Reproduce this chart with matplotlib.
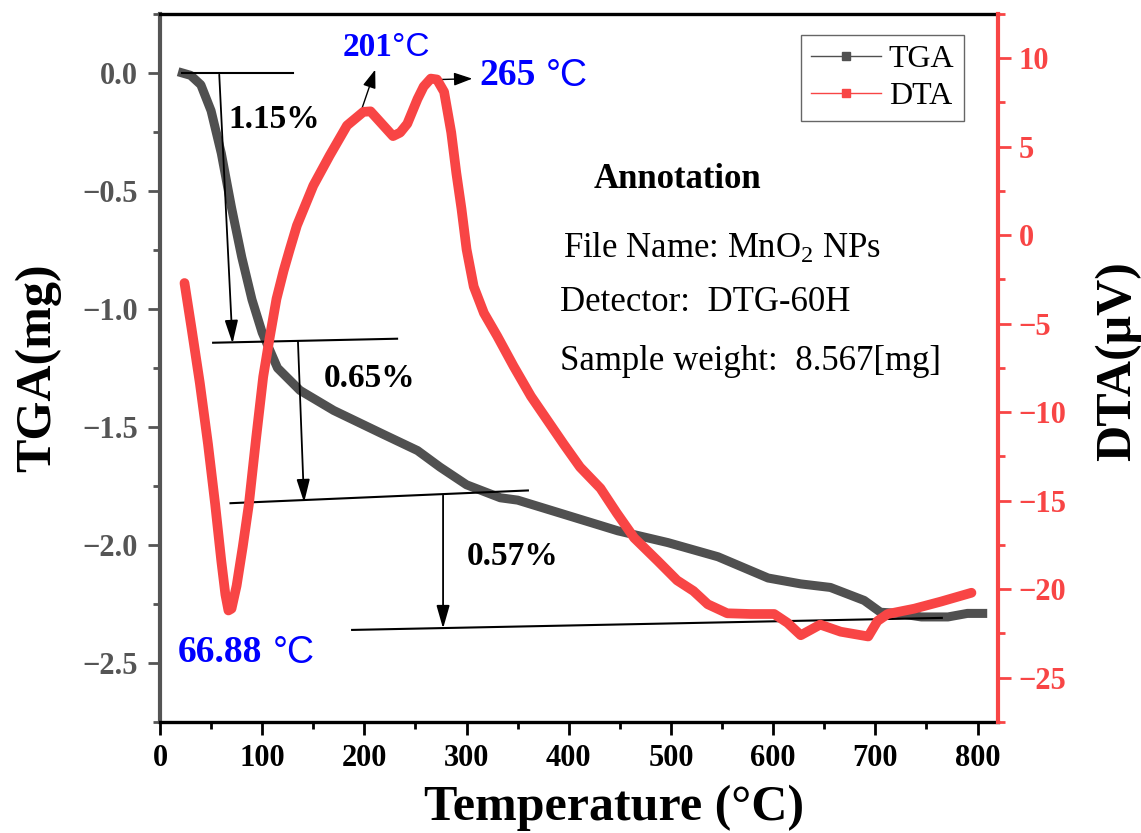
import matplotlib
matplotlib.use('Agg')
import matplotlib.pyplot as plt
from matplotlib.lines import Line2D
from matplotlib.ticker import MultipleLocator

plt.rcParams['font.family'] = ['Liberation Serif', 'DejaVu Serif']
plt.rcParams['mathtext.fontset'] = 'custom'
plt.rcParams['mathtext.rm'] = 'Liberation Serif'
plt.rcParams['mathtext.default'] = 'regular'

# TGA curve (temperature in C, mass in mg)
temp_tga = [22, 30, 40, 50, 60, 70, 80, 90, 100, 115, 137, 170, 218, 252, 274, 300,
            333, 350, 399, 448, 497, 546, 595, 627, 656, 689, 705, 722, 745, 771, 790, 805]
tga = [0.0, -0.01, -0.05, -0.16, -0.34, -0.57, -0.78, -0.96, -1.10, -1.25, -1.345, -1.43,
       -1.53, -1.60, -1.67, -1.745, -1.80, -1.81, -1.875, -1.94, -1.99, -2.05, -2.14, -2.165,
       -2.18, -2.235, -2.285, -2.29, -2.305, -2.305, -2.29, -2.29]

# DTA curve (temperature in C, signal in uV)
temp_dta = [24, 31, 39, 47, 54, 60, 64, 67, 70, 75, 81, 87, 94, 101, 107, 114, 121, 127,
            134, 150, 166, 183, 199, 206, 217, 228, 235, 242, 252, 258, 265, 271, 278, 285,
            290, 295, 300, 307, 317, 330, 346, 363, 379, 395, 411, 431, 447, 464, 487, 506,
            522, 536, 555, 578, 601, 614, 627, 646, 666, 693, 702, 712, 738, 764, 794]
dta = [-2.7, -5.3, -8.35, -11.8, -15.2, -18.4, -20.3, -21.2, -21.1, -19.8, -17.6, -15.2,
       -11.5, -8.0, -5.9, -3.6, -2.0, -0.8, 0.55, 2.8, 4.5, 6.2, 6.97, 7.0, 6.3, 5.6, 5.8,
       6.3, 7.7, 8.4, 8.85, 8.8, 8.1, 5.8, 3.5, 1.5, -0.8, -2.9, -4.4, -5.7, -7.4, -9.1,
       -10.45, -11.8, -13.1, -14.3, -15.7, -17.1, -18.4, -19.5, -20.1, -20.85, -21.36, -21.4,
       -21.4, -21.9, -22.6, -22.0, -22.4, -22.67, -21.8, -21.4, -21.1, -20.7, -20.2]

# step annotations: (start, end) in TGA axis data
base_lines = [((22, 0.0), (130, 0.0)),
              ((52, -1.143), (232, -1.126)),
              ((69, -1.823), (360, -1.769)),
              ((188, -2.36), (765, -2.309))]
step_arrows = [((58, -0.007), (71, -1.146)),
               ((135, -1.136), (141, -1.82)),
               ((277, -1.79), (277, -2.354))]
step_labels = ['1.15%', '0.65%', '0.57%']
step_label_pos = [(112, -0.195), (205, -1.293), (345, -2.05)]

GRAY = '#505050'
RED = '#F84545'
AXGRAY = '#555555'

fig = plt.figure(figsize=(11.41, 8.33), dpi=100)
ax = fig.add_axes([0.1402, 0.1333, 0.7345, 0.8499])
ax2 = ax.twinx()

ax.plot(temp_tga, tga, color=GRAY, lw=6.5)
ax2.plot(temp_dta, dta, color=RED, lw=7, solid_capstyle='round', solid_joinstyle='round')

ax.set_xlim(0, 820)
ax.set_ylim(-2.75, 0.25)
ax2.set_ylim(-27.5, 12.5)

ax.xaxis.set_major_locator(MultipleLocator(100))
ax.xaxis.set_minor_locator(MultipleLocator(50))
ax.yaxis.set_major_locator(MultipleLocator(0.5))
ax.yaxis.set_minor_locator(MultipleLocator(0.25))
ax2.yaxis.set_major_locator(MultipleLocator(5))
ax2.yaxis.set_minor_locator(MultipleLocator(2.5))

for s in ['top', 'bottom']:
    ax.spines[s].set_color('black')
    ax.spines[s].set_linewidth(2.4)
    ax2.spines[s].set_visible(False)
ax.spines['left'].set_color(AXGRAY)
ax.spines['left'].set_linewidth(3)
ax.spines['right'].set_visible(False)
ax2.spines['left'].set_visible(False)
ax2.spines['right'].set_color(RED)
ax2.spines['right'].set_linewidth(3)

ax.tick_params(axis='x', which='major', direction='out', length=9, width=2, colors='black',
               labelsize=22, pad=7)
ax.tick_params(axis='x', which='minor', direction='out', length=5, width=2, colors='black')
ax.tick_params(axis='y', which='major', direction='out', length=9, width=2, colors=AXGRAY,
               labelsize=22, pad=7)
ax.tick_params(axis='y', which='minor', direction='out', length=5, width=2, colors=AXGRAY)
ax2.tick_params(axis='y', which='major', direction='out', length=9, width=2, colors=RED,
                labelsize=22, pad=6)
ax2.tick_params(axis='y', which='minor', direction='out', length=5, width=2, colors=RED)
for lbl in ax.get_xticklabels() + ax.get_yticklabels() + ax2.get_yticklabels():
    lbl.set_fontweight('bold')

ax.set_xlabel('Temperature (°C)', fontsize=36, fontweight='bold', va='center')
ax.xaxis.set_label_coords(0.542, -0.121)
ax.set_ylabel('TGA(mg)', fontsize=36, fontweight='bold', va='center')
ax.yaxis.set_label_coords(-0.1456, 0.5)
ax2.set_ylabel('DTA(μV)', fontsize=36, fontweight='bold', va='center', rotation=90)
ax2.yaxis.set_label_coords(1.143, 0.51)

# step lines, arrows and labels
for (x0, y0), (x1, y1) in base_lines:
    ax.plot([x0, x1], [y0, y1], color='black', lw=1.5)
for (x0, y0), (x1, y1) in step_arrows:
    ax.annotate('', xy=(x1, y1), xytext=(x0, y0),
                arrowprops=dict(arrowstyle='-|>,head_length=0.7,head_width=0.2',
                                color='black', lw=1.3, mutation_scale=20,
                                shrinkA=0, shrinkB=0))
for txt, (x, y) in zip(step_labels, step_label_pos):
    ax.text(x, y, txt, fontsize=24, fontweight='bold', ha='center', va='center')

# peak markers
ax.annotate('', xy=(210.6, 0.014), xytext=(197.9, -0.147),
            arrowprops=dict(arrowstyle='-|>,head_length=0.7,head_width=0.25',
                            color='black', lw=1, mutation_scale=16, shrinkA=0, shrinkB=0))
ax.annotate('', xy=(305.6, -0.024), xytext=(271.3, -0.028),
            arrowprops=dict(arrowstyle='-|>,head_length=0.7,head_width=0.25',
                            color='black', lw=1, mutation_scale=16, shrinkA=0, shrinkB=0))
peak_nums = ['201', '265', '66.88']
peak_num_pos = [(227.3, 0.107), (367.3, -0.011), (100.0, -2.456)]
peak_deg_x = [227.3, 377.0, 110.7]
peak_sizes = [24, 27, 27]
for num, (x, y), dx, fs in zip(peak_nums, peak_num_pos, peak_deg_x, peak_sizes):
    ax.text(x, y, num, color='blue', fontsize=fs, fontweight='bold', ha='right', va='center')
    ax.text(dx, y, '°C', color='blue', fontsize=fs, family='Liberation Sans',
            ha='left', va='center')

# info block
fig.text(677 / 1141, 1 - 188 / 833, 'Annotation', fontsize=25, fontweight='bold',
         ha='center', va='baseline')
fig.text(563 / 1141, 1 - 258 / 833, 'File Name: MnO$_2$ NPs', fontsize=25,
         ha='left', va='baseline')
fig.text(560 / 1141, 1 - 311 / 833, 'Detector:  DTG-60H', fontsize=25,
         ha='left', va='baseline')
fig.text(560 / 1141, 1 - 370 / 833, 'Sample weight:  8.567[mg]', fontsize=25,
         ha='left', va='baseline')

handles = [Line2D([], [], color=GRAY, lw=1, marker='s', markersize=6),
           Line2D([], [], color=RED, lw=1, marker='s', markersize=6)]
leg = ax2.legend(handles, ['TGA', 'DTA'], loc='upper right',
                 bbox_to_anchor=(964 / 1141, 1 - 35 / 833), bbox_transform=fig.transFigure,
                 fontsize=23, fancybox=False, edgecolor='#666666', framealpha=1,
                 handlelength=2.2, handletextpad=0.25, borderpad=0.3, labelspacing=0.25,
                 borderaxespad=0, markerscale=1)
leg.get_frame().set_linewidth(1)

fig.savefig('out.png', dpi=100)
